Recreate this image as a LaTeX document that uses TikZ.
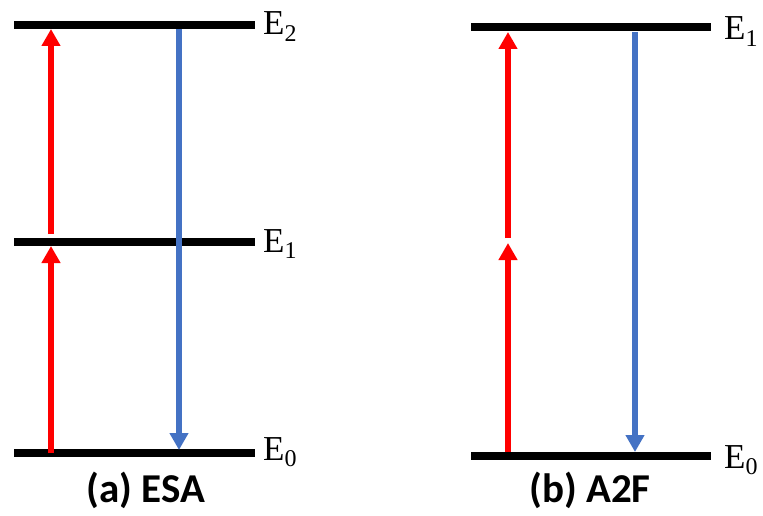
\documentclass[tikz,border=0pt]{standalone}
\usepackage{fontspec}
\setmainfont{Liberation Serif}
\newfontfamily\titlefont{Carlito}
\usetikzlibrary{arrows.meta}
\definecolor{excite}{RGB}{255,0,0}
\definecolor{emit}{RGB}{68,114,196}
\tikzset{
  x=1pt, y=-1pt,
  level/.style={line width=8pt, black},
  up/.style={line width=5.5pt, excite, -{Triangle[width=18pt,length=17pt]}},
  down/.style={line width=5.5pt, emit, -{Triangle[width=18pt,length=17pt]}},
  elabel/.style={anchor=base west, inner sep=0pt, font=\fontsize{35}{35}\selectfont},
  title/.style={anchor=base, inner sep=0pt, font=\titlefont\bfseries\fontsize{41}{41}\selectfont}
}
\newcommand{\lvl}[1]{E\raisebox{-6.5pt}{\fontsize{24}{24}\selectfont #1}}
\begin{document}
\begin{tikzpicture}
\useasboundingbox (0,0) rectangle (763,516);

% ---- (a) excited-state absorption ----
\coordinate (a2l) at (14,25);  \coordinate (a2r) at (255,25);
\coordinate (a1l) at (14,242); \coordinate (a1r) at (255,242);
\coordinate (a0l) at (14,453); \coordinate (a0r) at (255,453);
\draw[level] (a2l) -- (a2r);
\draw[level] (a1l) -- (a1r);
\draw[level] (a0l) -- (a0r);
\node[elabel] (aE2) at (263,35) {\lvl{2}};
\node[elabel] (aE1) at (263,252) {\lvl{1}};
\node[elabel] (aE0) at (263,460) {\lvl{0}};

\coordinate (aup1s) at (51,453); \coordinate (aup1e) at (51,246);
\coordinate (aup2s) at (51,234); \coordinate (aup2e) at (51,29);
\coordinate (adns) at (179,29);  \coordinate (adne) at (179,450);
\draw[up] (aup1s) -- (aup1e);
\draw[up] (aup2s) -- (aup2e);
\draw[down] (adns) -- (adne);
\node[title] (ta) at (146,502) {(a) ESA};

% ---- (b) two-photon absorption ----
\coordinate (b1l) at (471,27.5); \coordinate (b1r) at (711,27.5);
\coordinate (b0l) at (471,456);  \coordinate (b0r) at (711,456);
\draw[level] (b1l) -- (b1r);
\draw[level] (b0l) -- (b0r);
\node[elabel] (bE1) at (724,40) {\lvl{1}};
\node[elabel] (bE0) at (724,468) {\lvl{0}};

\coordinate (bup1s) at (508,452); \coordinate (bup1e) at (508,243);
\coordinate (bup2s) at (508,238); \coordinate (bup2e) at (508,32);
\coordinate (bdns) at (635,32);   \coordinate (bdne) at (635,452);
\draw[up] (bup1s) -- (bup1e);
\draw[up] (bup2s) -- (bup2e);
\draw[down] (bdns) -- (bdne);
\node[title] (tb) at (590,502) {(b) A2F};
\end{tikzpicture}
\end{document}
